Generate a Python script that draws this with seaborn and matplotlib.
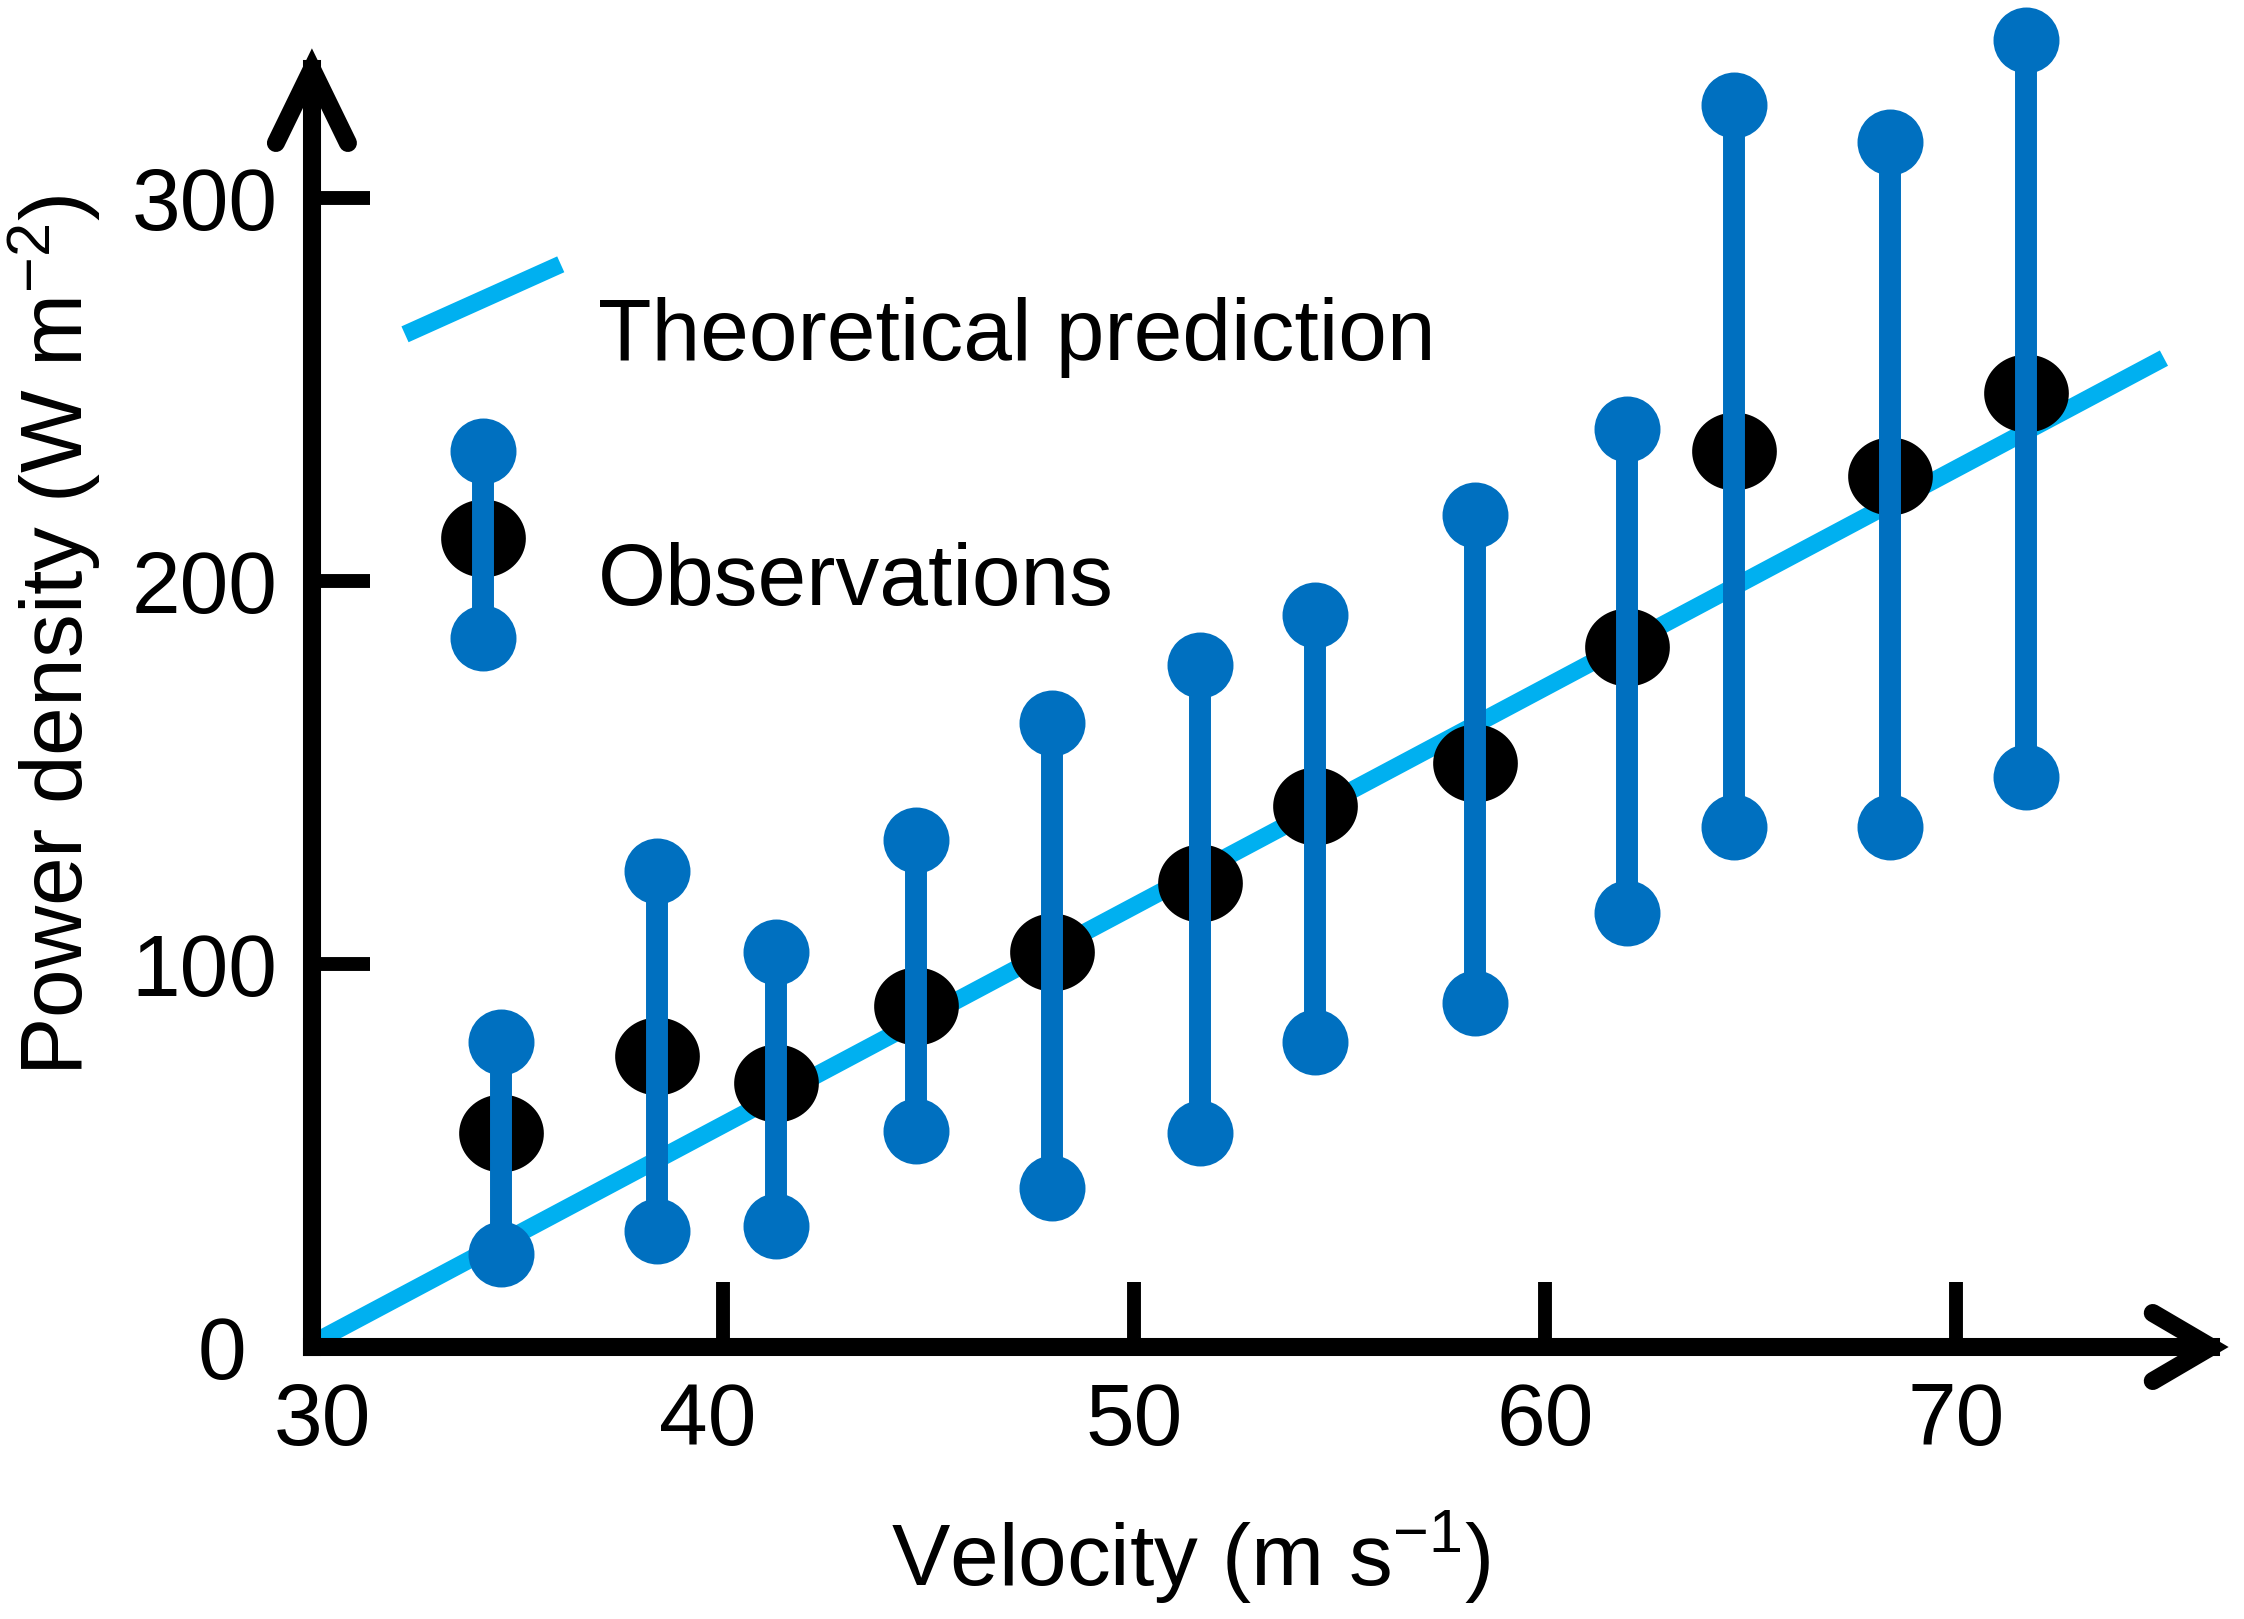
import numpy as np
import pandas as pd
import seaborn as sns
import matplotlib
matplotlib.use("Agg")
import matplotlib.pyplot as plt
from matplotlib.path import Path
from matplotlib.lines import Line2D
from matplotlib.legend_handler import HandlerBase
from matplotlib.transforms import ScaledTranslation

# ---------------- data ----------------
velocity = [34.6, 38.4, 41.3, 44.7, 48.0, 51.6, 54.4, 58.3, 62.0, 64.6, 68.4, 71.7]
power_mean = [55.8, 76.0, 68.9, 89.0, 103.2, 121.2, 141.3, 152.6, 182.8, 234.0, 227.3, 249.0]
power_upper = [79.7, 124.2, 103.2, 132.4, 163.0, 178.0, 191.0, 217.2, 239.6, 324.4, 314.7, 341.2]
power_lower = [24.4, 30.4, 31.5, 56.5, 41.6, 55.8, 79.7, 89.8, 113.3, 135.7, 135.7, 148.8]
theory_velocity = [30.0, 75.06]
theory_power = [0.9, 258.2]
x_ticks = [30, 40, 50, 60, 70]
y_ticks = [0, 100, 200, 300]
x_label = "Velocity (m s$^{-1}$)"
y_label = "Power density (W m$^{-2}$)"
legend_labels = ["Theoretical prediction", "Observations"]

BLUE = "#0070C0"
LIGHT = "#00B0F0"
FS = 63
LW_THEORY = 12.5
LW_BAR = 15.8
MS_DOT = 47.5
MS_ELL = 61
LW_AXIS = 13

sns.set_theme(style="white")
plt.rcParams["font.family"] = ["Liberation Sans", "DejaVu Sans"]
plt.rcParams["mathtext.default"] = "regular"
for k in ["text.color", "axes.labelcolor", "xtick.color", "ytick.color"]:
    plt.rcParams[k] = "black"

df = pd.DataFrame({"v": velocity, "mean": power_mean, "up": power_upper, "lo": power_lower})
theory = pd.DataFrame({"v": theory_velocity, "p": theory_power})

# ellipse marker (wider than tall)
t = np.linspace(0, 2 * np.pi, 80)
ELLIPSE = Path(np.column_stack([np.cos(t), 0.92 * np.sin(t)]), closed=True)

fig = plt.figure(figsize=(22.44, 16.19), dpi=100)
AX_W_PX, AX_H_PX = 0.8462 * 2244, 0.7894 * 1619
ax = fig.add_axes([0.1390, 0.1680, 0.8462, 0.7894])

sns.lineplot(data=theory, x="v", y="p", color=LIGHT, linewidth=LW_THEORY, ax=ax,
             zorder=2, solid_capstyle="butt")
for ln in ax.lines:
    ln.set_linewidth(LW_THEORY)
sns.scatterplot(data=df, x="v", y="mean", color="black", marker=ELLIPSE, s=MS_ELL ** 2,
                linewidth=0, ax=ax, zorder=3, clip_on=False)
ax.vlines(df["v"], df["lo"], df["up"], color=BLUE, lw=LW_BAR, zorder=4, clip_on=False)
sns.scatterplot(x=list(df["v"]) * 2, y=list(df["up"]) + list(df["lo"]), color=BLUE,
                marker="o", s=MS_DOT ** 2, linewidth=0, ax=ax, zorder=5, clip_on=False)

ax.set_xlim(30, 76.2)
ax.set_ylim(0, 333.7)

# axes styling
for side in ["top", "right"]:
    ax.spines[side].set_visible(False)
for side in ["left", "bottom"]:
    ax.spines[side].set_linewidth(LW_AXIS)
    ax.spines[side].set_color("black")
    ax.spines[side].set_capstyle("projecting")
    ax.spines[side].set_zorder(6)

ax.set_xticks(x_ticks)
ax.set_yticks(y_ticks)
ax.set_xticklabels([str(v) for v in x_ticks])
ax.set_yticklabels([str(v) for v in y_ticks])
ax.tick_params(axis="x", direction="in", length=47, width=10, pad=25, labelsize=FS,
               bottom=True, color="black", labelcolor="black")
ax.tick_params(axis="y", direction="in", length=42, width=10, pad=25, labelsize=FS,
               left=True, color="black", labelcolor="black")
lab0 = ax.get_yticklabels()[0]
lab0.set_transform(lab0.get_transform() + ScaledTranslation(-0.31, 0, fig.dpi_scale_trans))
xl0 = ax.get_xticklabels()[0]
xl0.set_transform(xl0.get_transform() + ScaledTranslation(0.10, 0, fig.dpi_scale_trans))
xl1 = ax.get_xticklabels()[1]
xl1.set_transform(xl1.get_transform() + ScaledTranslation(-0.15, 0, fig.dpi_scale_trans))

ax.set_xlabel(x_label, fontsize=FS, color="black")
ax.set_ylabel(y_label, fontsize=FS, color="black")
ax.xaxis.set_label_coords(0.463, -0.1275)
ax.yaxis.set_label_coords(-0.110, 0.557)

# arrow heads: open chevrons at the ends of the two axis lines (axes-fraction units)
ax_x, ay_x = 58 / AX_W_PX, 34 / AX_H_PX
ax_y, ay_y = 36 / AX_W_PX, 74 / AX_H_PX
for xs, ys in [([1 - ax_x, 1, 1 - ax_x], [ay_x, 0, -ay_x]),
               ([-ax_y, 0, ax_y], [1 - ay_y, 1, 1 - ay_y])]:
    ax.add_line(Line2D(xs, ys, transform=ax.transAxes, color="black", lw=LW_AXIS,
                       solid_capstyle="round", solid_joinstyle="miter",
                       clip_on=False, zorder=7))

# ---------------- legend ----------------
class TheoryKey:
    pass


class ObsKey:
    pass


class TheoryHandler(HandlerBase):
    def create_artists(self, legend, orig_handle, xd, yd, width, height, fontsize, trans):
        yc = (height - yd) / 2 + 0.30 * fontsize
        dy = 0.40 * fontsize
        ln = Line2D([-xd, -xd + width], [yc - dy, yc + dy], color=LIGHT, lw=LW_THEORY,
                    solid_capstyle="butt", transform=trans)
        return [ln]


class ObsHandler(HandlerBase):
    def create_artists(self, legend, orig_handle, xd, yd, width, height, fontsize, trans):
        xc = -xd + width / 2
        yc = (height - yd) / 2 + 0.37 * fontsize
        top = yc + 0.99 * fontsize
        bot = yc - 1.15 * fontsize
        e = Line2D([xc], [yc], marker=ELLIPSE, ms=MS_ELL, color="black", mew=0, ls="none",
                   transform=trans)
        v = Line2D([xc, xc], [bot, top], color=BLUE, lw=LW_BAR, transform=trans)
        d = Line2D([xc, xc], [bot, top], marker="o", ms=MS_DOT, color=BLUE, mew=0,
                   ls="none", transform=trans)
        return [e, v, d]


leg = ax.legend([TheoryKey(), ObsKey()], legend_labels,
                handler_map={TheoryKey: TheoryHandler(), ObsKey: ObsHandler()},
                loc="upper left", bbox_to_anchor=(405 / 2244, (1619 - 291) / 1619),
                bbox_transform=fig.transFigure, frameon=False, fontsize=FS,
                handlelength=1.78, handleheight=1.0, handletextpad=0.42,
                labelspacing=1.8, borderpad=0, borderaxespad=0)
for txt in leg.get_texts():
    txt.set_color("black")

fig.savefig("out.png", dpi=100)
